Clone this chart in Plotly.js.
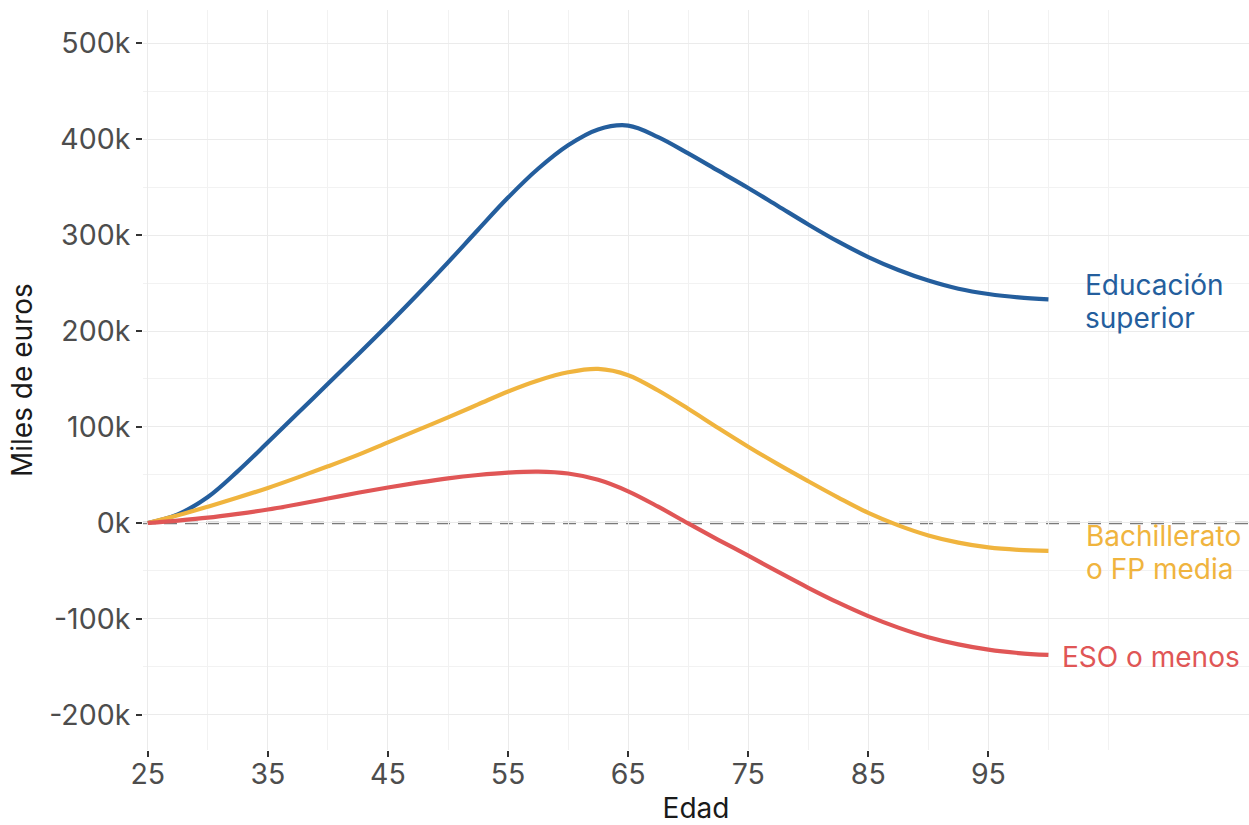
<!DOCTYPE html>
<html>
<head>
<meta charset="utf-8">
<script src="https://cdn.plot.ly/plotly-3.0.1.min.js"></script>
<style>html,body{margin:0;padding:0;background:#fff;}#chart{width:1249px;height:825px;}</style>
</head>
<body>
<div id="chart"></div>
<script>
// Edad (age)
const edad = [25, 27.5, 30, 32.5, 35, 37.5, 40, 42.5, 45, 47.5, 50, 52.5, 55, 57.5, 60, 62.5, 65, 67.5, 70, 72.5, 75, 77.5, 80, 82.5, 85, 87.5, 90, 92.5, 95, 97.5, 100];
// Miles de euros
const superior = [0, 9, 27, 54, 84, 114.5, 145, 175.5, 206.5, 238.5, 271.5, 305.5, 339, 369, 393.5, 410, 414, 402, 385, 367, 349, 330, 311, 293, 277, 263.5, 252.5, 244, 238.5, 235, 233];
const bachillerato = [0, 8, 17, 26.5, 36.5, 47.5, 59, 71, 84, 97, 110, 123.5, 137, 148.5, 157, 160.5, 154, 138, 119, 99, 79.5, 61, 43.5, 26.5, 10.5, -2.5, -13, -20.5, -25.5, -28, -29];
const eso = [0, 2.5, 5.5, 9.5, 14, 19.5, 25.5, 31.5, 37, 42, 46.5, 50, 52.5, 53.5, 51.5, 45, 33, 17, -0.5, -17.5, -34, -51, -67.5, -83, -97, -109, -119, -126.5, -132, -135.5, -137.5];

const xTicks = [25, 35, 45, 55, 65, 75, 85, 95];
const xMinorGrid = [30, 40, 50, 60, 70, 80, 90, 100, 105];
const yTicks = [-200, -100, 0, 100, 200, 300, 400, 500];
const yTickText = ['-200k', '-100k', '0k', '100k', '200k', '300k', '400k', '500k'];

const seriesNames = ['Educación<br>superior', 'Bachillerato<br>o FP media', 'ESO o menos'];
const colors = ['#245e9d', '#f0b43e', '#e05656'];

const FONT = 'Inter, Liberation Sans, Arial, sans-serif';
const FS_TICK = 28.5;
const FS_TXT = 28;
const LINE_H = 33;

const traces = [superior, bachillerato, eso].map((ys, i) => ({
  x: edad, y: ys, type: 'scatter', mode: 'lines',
  line: {color: colors[i], width: 4.2, shape: 'spline', smoothing: 1},
  hoverinfo: 'skip', showlegend: false
}));

const labelY = [superior[superior.length-1], bachillerato[bachillerato.length-1], eso[eso.length-1]];
const labelX = [102.9, 103.0, 101.0];

const annotations = [];
seriesNames.forEach((t, i) => {
  const lines = t.split('<br>');
  lines.forEach((ln, j) => {
    annotations.push({
      x: labelX[i], y: labelY[i], xref: 'x', yref: 'y',
      yshift: -(j - (lines.length - 1) / 2) * LINE_H - 2,
      text: ln, showarrow: false, xanchor: 'left', yanchor: 'middle', align: 'left',
      font: {family: FONT, size: FS_TXT, color: colors[i]}
    });
  });
});
// y-axis title
annotations.push({
  xref: 'paper', yref: 'paper', x: -0.1094, y: 0.5, xanchor: 'center', yanchor: 'middle',
  text: 'Miles de euros', textangle: -90, showarrow: false,
  font: {family: FONT, size: FS_TXT, color: '#1a1a1a'}
});

const layout = {
  width: 1249, height: 825,
  margin: {l: 143, r: 0, t: 10, b: 75},
  paper_bgcolor: '#fff', plot_bgcolor: '#fff',
  font: {family: FONT, color: '#4d4d4d'},
  xaxis: {
    range: [24.6, 116.7],
    tickvals: xTicks, ticktext: xTicks.map(String),
    ticks: 'outside', ticklen: 6, tickwidth: 2, tickcolor: '#333',
    tickfont: {family: FONT, size: FS_TICK, color: '#4d4d4d'},
    ticklabelstandoff: -7,
    showgrid: true, gridcolor: '#ebebeb', gridwidth: 1,
    minor: {tickvals: xMinorGrid, showgrid: true, gridcolor: '#f2f2f2', gridwidth: 1, ticks: ''},
    zeroline: false, showline: false,
    title: {text: 'Edad', font: {family: FONT, size: FS_TXT, color: '#1a1a1a'}, standoff: 14}
  },
  yaxis: {
    range: [-236.5, 534.4],
    tickvals: yTicks, ticktext: yTickText,
    ticks: 'outside', ticklen: 6, tickwidth: 2, tickcolor: '#333',
    tickfont: {family: FONT, size: FS_TICK, color: '#4d4d4d'},
    showgrid: true, gridcolor: '#ebebeb', gridwidth: 1,
    minor: {dtick: 50, showgrid: true, gridcolor: '#f2f2f2', gridwidth: 1, ticks: ''},
    zeroline: false, showline: false
  },
  shapes: [{
    type: 'line', xref: 'paper', x0: 0, x1: 1, yref: 'y', y0: 0, y1: 0,
    line: {color: '#7a7a7a', width: 2.5, dash: '13px,8px'}, layer: 'between'
  }],
  annotations: annotations
};

Plotly.newPlot('chart', traces, layout, {displayModeBar: false, staticPlot: true});
</script>
</body>
</html>
